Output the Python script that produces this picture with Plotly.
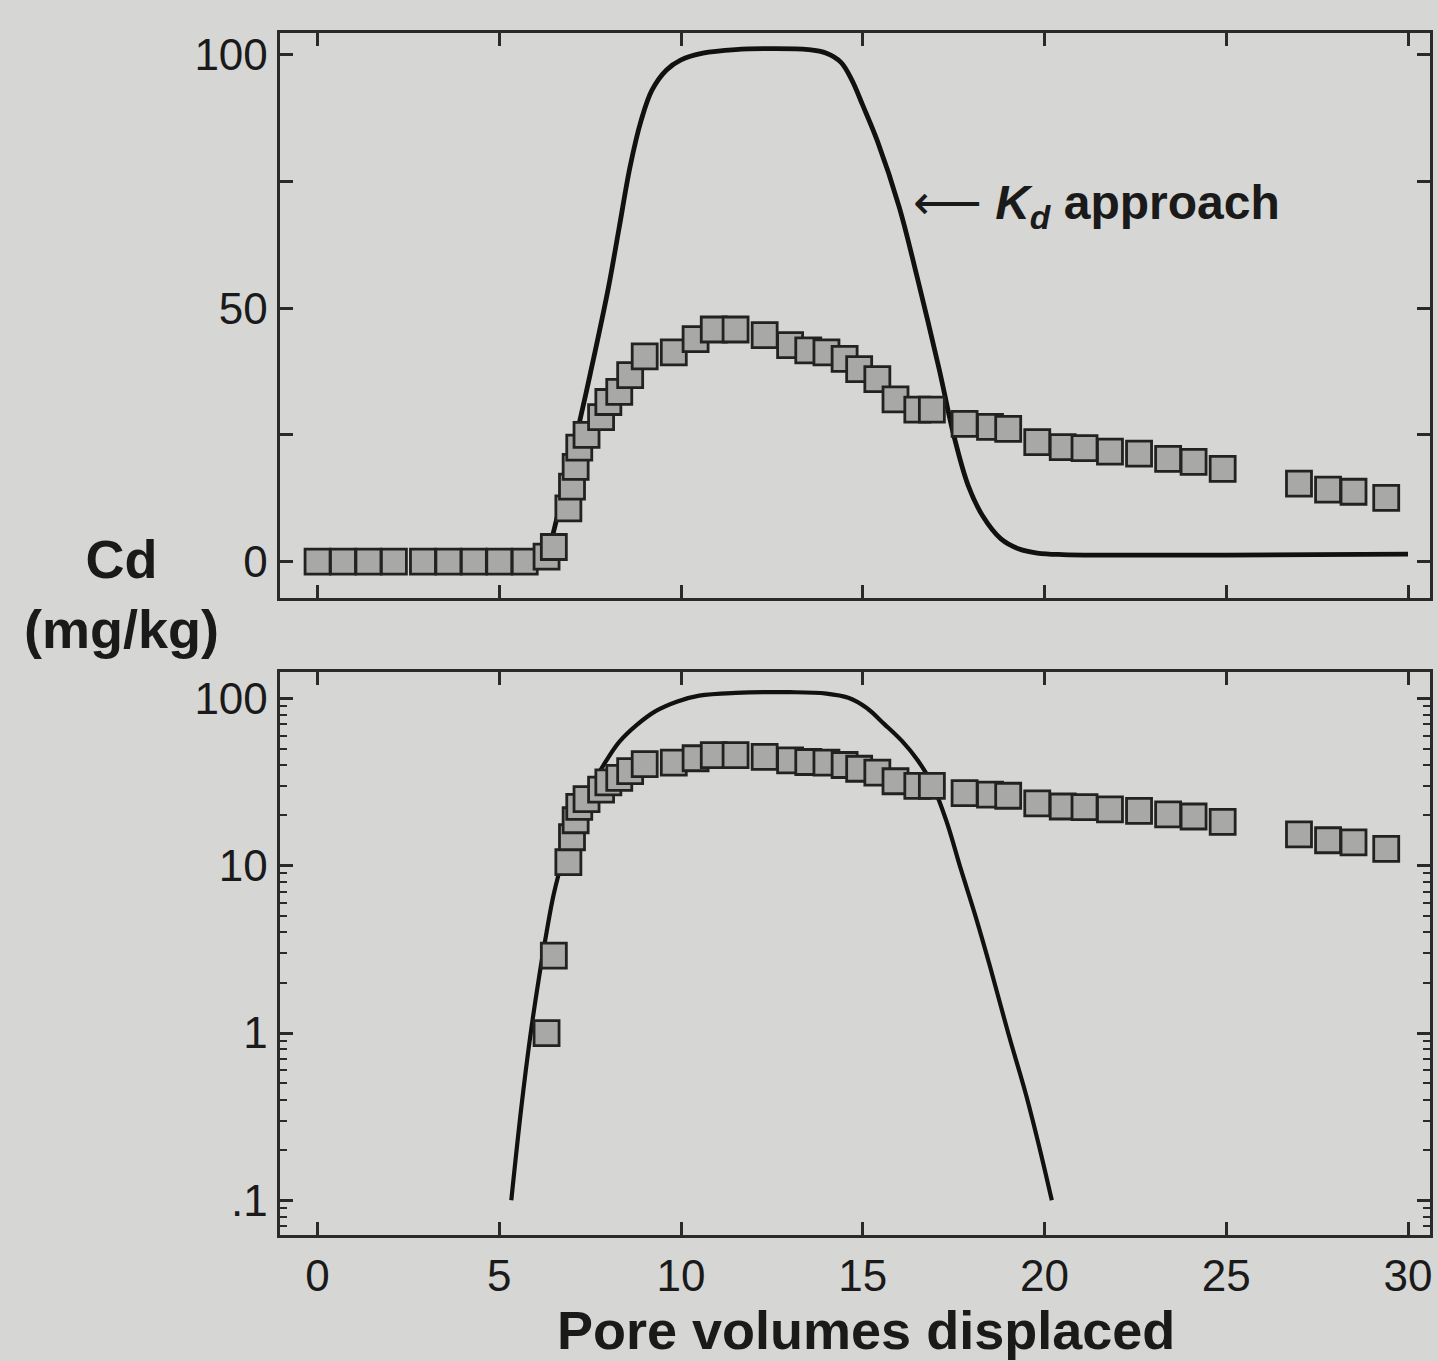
import plotly.graph_objects as go

# Measured Cd (squares)
obs_x = [0, 0.7, 1.4, 2.1, 2.9, 3.6, 4.3, 5.0, 5.7, 6.3, 6.5,
         6.9, 7.0, 7.1, 7.2, 7.4, 7.8, 8.0, 8.3, 8.6, 9.0, 9.8, 10.4, 10.9, 11.5,
         12.3, 13.0, 13.5, 14.0, 14.5, 14.9, 15.4, 15.9, 16.5, 16.9, 17.8, 18.5,
         19.0, 19.8, 20.5, 21.1, 21.8, 22.6, 23.4, 24.1, 24.9, 27.0, 27.8, 28.5, 29.4]
obs_y = [0, 0, 0, 0, 0, 0, 0, 0, 0, 1.0, 2.9,
         10.5, 14.8, 18.7, 22.5, 25.0, 28.5, 31.5, 33.5, 36.8, 40.5, 41.3, 43.9, 45.8, 45.8,
         44.7, 42.7, 41.7, 41.3, 40.0, 38.0, 36.0, 32.0, 30.0, 30.0, 27.2, 26.6,
         26.2, 23.6, 22.6, 22.4, 21.7, 21.3, 20.3, 19.7, 18.3, 15.4, 14.2, 13.8, 12.6]

# Kd approach curve, linear panel
kd_top_x = [5.3, 6.0, 6.3, 6.6, 7.0, 7.5, 8.0, 8.3, 8.6, 8.9, 9.2, 9.6, 10.0, 10.6, 11.5,
            12.5, 13.5, 14.0, 14.4, 14.7, 15.0, 15.4, 16.0, 16.5, 17.1, 17.5, 17.9,
            18.3, 18.8, 19.3, 19.8, 20.5, 25.0, 30.0]
kd_top_y = [0, 0.3, 2, 9, 21, 37, 54, 66, 78, 87, 93, 97, 99, 100.3, 101,
            101.2, 101, 100.3, 98.5, 95, 90, 83, 70, 56, 38, 25, 15,
            9, 4.5, 2.5, 1.7, 1.4, 1.3, 1.5]

# Kd approach curve, log panel
kd_bot_x = [5.33, 5.6, 5.85, 6.1, 6.3, 6.5, 6.8, 7.1, 7.5, 7.9, 8.3, 8.8, 9.3, 9.9, 10.5,
            11.5, 13.0, 14.0, 14.6, 15.1, 15.6, 16.1, 16.5, 16.9, 17.3, 17.7, 18.1,
            18.5, 19.0, 19.5, 19.9, 20.2]
kd_bot_y = [0.1, 0.35, 0.95, 2.2, 4.0, 6.8, 12, 19, 29, 41, 55, 70, 84, 96, 104,
            108, 109, 107, 101, 88, 70, 55, 43, 31, 18.5, 9.5, 5.0,
            2.5, 1.0, 0.42, 0.19, 0.1]

x_ticks = [0, 5, 10, 15, 20, 25, 30]
y_lin_ticks = [0, 50, 100]
y_lin_minor = [25, 75]
y_log_ticks = [0.1, 1, 10, 100]
y_log_text = [".1", "1", "10", "100"]

BG = "#d6d6d4"
INK = "#1a1a1a"
FONT = "Liberation Sans, Arial, sans-serif"

fig = go.Figure()

marker = dict(symbol="square", size=25, color="#a8a8a6",
              line=dict(color="#222222", width=2.8))

fig.add_trace(go.Scatter(x=kd_top_x, y=kd_top_y, mode="lines",
                         line=dict(color="#111111", width=4.8, shape="spline", smoothing=1.0),
                         xaxis="x", yaxis="y", showlegend=False))
fig.add_trace(go.Scatter(x=obs_x, y=obs_y, mode="markers", marker=marker,
                         xaxis="x", yaxis="y", showlegend=False))
fig.add_trace(go.Scatter(x=kd_bot_x, y=kd_bot_y, mode="lines",
                         line=dict(color="#111111", width=4.2, shape="spline", smoothing=1.0),
                         xaxis="x2", yaxis="y2", showlegend=False))
fig.add_trace(go.Scatter(x=obs_x, y=obs_y, mode="markers", marker=marker,
                         xaxis="x2", yaxis="y2", showlegend=False))

W, H = 1438, 1361
L, R = 280, 1432
px0, px30 = 318, 1410
per = (px30 - px0) / 30.0
x_range = [(L - px0) / per, (R - px0) / per]

axis_common = dict(showline=True, linecolor="#2a2a2a", linewidth=3, mirror="allticks",
                   ticks="inside", ticklen=13, tickwidth=2.5, tickcolor="#2a2a2a",
                   showgrid=False, zeroline=False,
                   tickfont=dict(family=FONT, size=44, color=INK))

minor_log = [m * 10 ** e for e in range(-2, 3) for m in range(2, 10)]

fig.update_layout(
    width=W, height=H, margin=dict(l=0, r=0, t=0, b=0),
    paper_bgcolor=BG, plot_bgcolor=BG,
    xaxis=dict(domain=[L / W, R / W], range=x_range, tickvals=x_ticks,
               showticklabels=False, anchor="y", **axis_common),
    yaxis=dict(domain=[1 - 596 / H, 1 - 30 / H], range=[-7.1, 104.3],
               tickvals=y_lin_ticks, anchor="x",
               minor=dict(tickvals=y_lin_minor, ticks="inside", ticklen=13,
                          tickwidth=2.5, tickcolor="#2a2a2a"),
               **axis_common),
    xaxis2=dict(domain=[L / W, R / W], range=x_range, tickvals=x_ticks,
                anchor="y2", **axis_common),
    yaxis2=dict(domain=[1 - 1235 / H, 1 - 670 / H], type="log", range=[-1.209, 2.161],
                tickvals=y_log_ticks, ticktext=y_log_text, anchor="x2",
                minor=dict(tickvals=minor_log, ticks="inside", ticklen=7,
                           tickwidth=1.5, tickcolor="#2a2a2a"),
                **axis_common),
)

fig.add_annotation(xref="paper", yref="paper", x=122 / W, y=1 - 592 / H,
                   text="<b>Cd</b><br><b>(mg/kg)</b>", showarrow=False,
                   font=dict(family=FONT, size=54, color=INK), align="center",
                   xanchor="center", yanchor="middle")
fig.add_annotation(xref="paper", yref="paper", x=867 / W, y=1 - 1330 / H,
                   text="<b>Pore volumes displaced</b>", showarrow=False,
                   font=dict(family=FONT, size=54, color=INK),
                   xanchor="center", yanchor="middle")
fig.add_annotation(xref="x", yref="y", x=(912 - px0) / per, y=(560 - 203) / 5.08,
                   text="<span style=\"font-family:'DejaVu Sans';font-weight:normal\">\u27f5</span>"
                        " <b><i>K</i><sub><i>d</i></sub> approach</b>",
                   showarrow=False, font=dict(family=FONT, size=48, color=INK),
                   xanchor="left", yanchor="middle")

fig.write_html("out.html", config={"displayModeBar": False},
               post_script="document.body.style.margin='0';")
